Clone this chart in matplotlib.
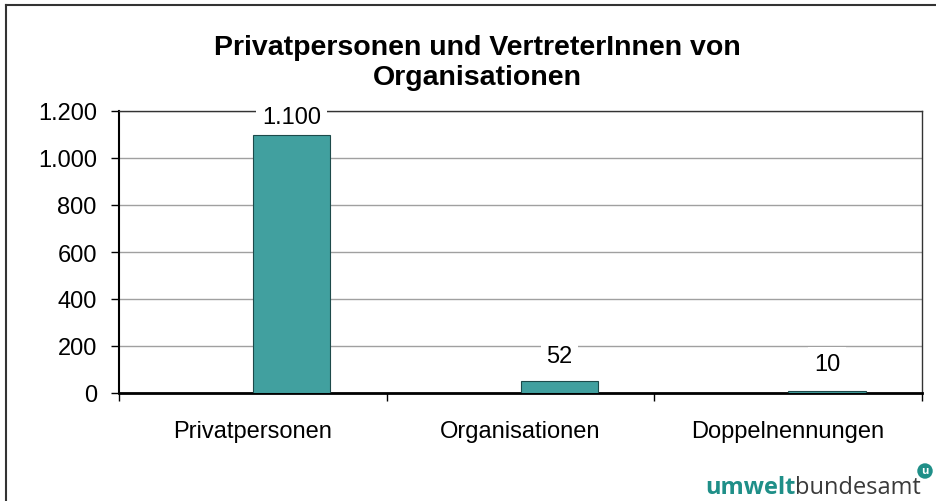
import matplotlib
matplotlib.use("Agg")
import matplotlib.pyplot as plt
from matplotlib.lines import Line2D

categories = ["Privatpersonen", "Organisationen", "Doppelnennungen"]
values = [1100, 52, 10]
value_labels = ["1.100", "52", "10"]
yticks = [0, 200, 400, 600, 800, 1000, 1200]
ytick_labels = ["0", "200", "400", "600", "800", "1.000", "1.200"]

plt.rcParams['font.family'] = ['Liberation Sans', 'DejaVu Sans']

fig = plt.figure(figsize=(9.36, 5.02), dpi=100)
ax = fig.add_axes([119/936, 1-394/502, (922-119)/936, (394-112)/502])

x = list(range(len(categories)))
ax.bar(x, values, width=0.29, align='edge', color='#41A09F', edgecolor='#1d4a4a', linewidth=0.8, zorder=3)

ax.set_xlim(-0.5, 2.5)
ax.set_ylim(0, 1200)
ax.set_yticks(yticks)
ax.set_yticklabels(ytick_labels, fontsize=17)
ax.set_xticks([-0.5, 0.5, 1.5, 2.5])
ax.set_xticklabels([])
ax.tick_params(axis='x', length=6, width=1, direction='out')
ax.tick_params(axis='y', length=6, width=1, direction='out', pad=10)
for i, c in enumerate(categories):
    ax.text(i, -0.135, c, transform=ax.get_xaxis_transform(), ha='center', va='center', fontsize=17)

ax.yaxis.grid(True, color='#a0a0a0', linewidth=1, zorder=0)
for s in ['top', 'right']:
    ax.spines[s].set_linewidth(1)
    ax.spines[s].set_color('#333333')
ax.spines['left'].set_linewidth(1.5)
ax.spines['bottom'].set_linewidth(2)

# data labels with white box
offsets = [74, 105, 113]
for i, (v, lab) in enumerate(zip(values, value_labels)):
    ax.text(i + 0.145, v + offsets[i], lab, ha='center', va='center', fontsize=17,
            bbox=dict(facecolor='white', edgecolor='none', pad=4), zorder=4)

fig.text(0.51, 1-63/502, "Privatpersonen und VertreterInnen von\nOrganisationen",
         ha='center', va='center', fontsize=20.5, fontweight='bold', linespacing=1.2)

# outer frame (left and top)
fig.add_artist(Line2D([6/936, 6/936], [0, 1-6/502], transform=fig.transFigure, color='#333333', linewidth=1.5))
fig.add_artist(Line2D([6/936, 1], [1-6/502, 1-6/502], transform=fig.transFigure, color='#333333', linewidth=1.5))

# logo
t1 = fig.text(705/936, 1-494/502, "umwelt", ha='left', va='baseline', fontsize=17, fontweight='bold',
              color='#1f8f88', family=['Open Sans', 'DejaVu Sans'])
fig.canvas.draw()
bb = t1.get_window_extent()
t2 = fig.text(bb.x1/936, 1-494/502, "bundesamt", ha='left', va='baseline', fontsize=17,
              color='#3a3a3a', family=['Open Sans', 'DejaVu Sans'])
fig.text(925/936, 1-472/502, "u", ha='center', va='center', fontsize=8, fontweight='bold',
         color='white', family=['Open Sans', 'DejaVu Sans'],
         bbox=dict(boxstyle='circle,pad=0.2', facecolor='#1f8f88', edgecolor='none'))

fig.savefig("out.png", dpi=100)
